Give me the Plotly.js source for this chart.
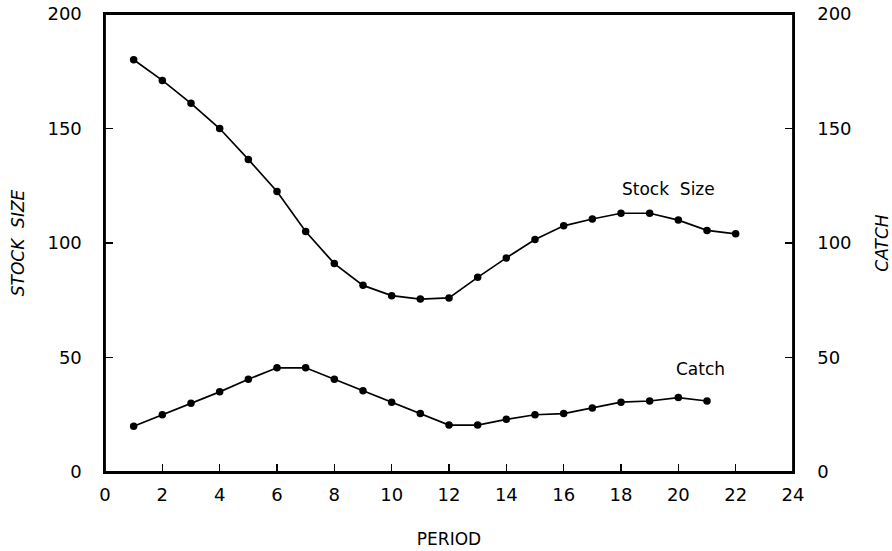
<!DOCTYPE html>
<html>
<head>
<meta charset="utf-8">
<script src="https://cdn.plot.ly/plotly-3.0.1.min.js"></script>
<style>html,body{margin:0;padding:0;background:#fff;}#chart{width:892px;height:551px;}</style>
</head>
<body>
<div id="chart"></div>
<script>
const period = [1,2,3,4,5,6,7,8,9,10,11,12,13,14,15,16,17,18,19,20,21,22];
const stockSize = [180,171,161,150,136.5,122.5,105,91,81.5,77,75.5,76,85,93.5,101.5,107.5,110.5,113,113,110,105.5,104];
const catchPeriod = [1,2,3,4,5,6,7,8,9,10,11,12,13,14,15,16,17,18,19,20,21];
const catchVals = [20,25,30,35,40.5,45.5,45.5,40.5,35.5,30.5,25.5,20.5,20.5,23,25,25.5,28,30.5,31,32.5,31];
const xTicks = [0,2,4,6,8,10,12,14,16,18,20,22,24];
const yTicks = [0,50,100,150,200];

const FAM = 'DejaVu Sans, sans-serif';
const tickFont = {family: FAM, size: 18, color: '#000'};
const titleFont = {family: FAM, size: 17, color: '#000'};
const lineStyle = {color: '#000', width: 1.7};
const markerStyle = {color: '#000', size: 7.5};

const traces = [
  {x: period, y: stockSize, type: 'scatter', mode: 'lines+markers', name: 'Stock Size',
   line: lineStyle, marker: markerStyle, yaxis: 'y', cliponaxis: false},
  {x: catchPeriod, y: catchVals, type: 'scatter', mode: 'lines+markers', name: 'Catch',
   line: lineStyle, marker: markerStyle, yaxis: 'y2', cliponaxis: false}
];

const axisBase = {
  showgrid: false, zeroline: false, showline: true, linecolor: '#000', linewidth: 1.6,
  ticks: 'inside', ticklen: 8, tickcolor: '#000', tickwidth: 1.4, tickfont: tickFont
};

const layout = {
  width: 892, height: 551,
  margin: {l: 105, r: 99, t: 14, b: 79},
  paper_bgcolor: '#fff', plot_bgcolor: '#fff',
  showlegend: false,
  font: tickFont,
  xaxis: Object.assign({}, axisBase, {
    range: [0, 24], tickvals: xTicks, ticktext: xTicks.map(String), mirror: true,
    ticklabelstandoff: 6,
    title: {text: 'PERIOD', font: titleFont, standoff: 29}
  }),
  yaxis: Object.assign({}, axisBase, {
    range: [0, 200], tickvals: yTicks, ticktext: yTicks.map(String),
    ticklabelstandoff: 18,
    title: {text: '<i>STOCK\u00a0\u00a0SIZE</i>', font: titleFont, standoff: 18}
  }),
  yaxis2: Object.assign({}, axisBase, {
    range: [0, 200], tickvals: yTicks, ticktext: yTicks.map(String),
    overlaying: 'y', side: 'right', ticklabelstandoff: 19,
    title: {text: '<i>CATCH</i>', font: titleFont, standoff: 26}
  }),
  shapes: [
    {type: 'rect', xref: 'paper', yref: 'paper', x0: 0, x1: 1, y0: 0, y1: 1,
     line: {color: '#000', width: 1.8}, fillcolor: 'rgba(0,0,0,0)'}
  ],
  annotations: [
    {x: 19.65, y: 123.4, xref: 'x', yref: 'y', text: 'Stock\u00a0\u00a0Size', showarrow: false,
     font: titleFont},
    {x: 20.77, y: 44.8, xref: 'x', yref: 'y2', text: 'Catch', showarrow: false,
     font: titleFont}
  ]
};

Plotly.newPlot('chart', traces, layout, {displayModeBar: false, staticPlot: true});
</script>
</body>
</html>
